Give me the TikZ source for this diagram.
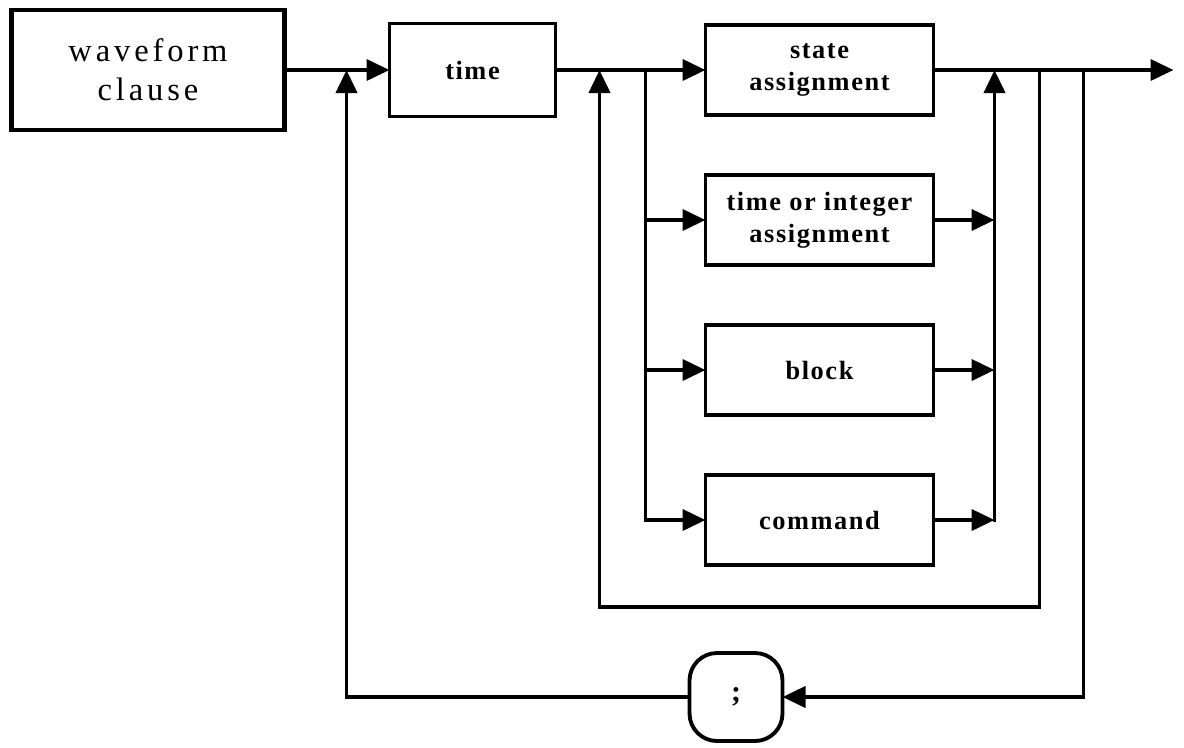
\documentclass[tikz,border=0pt]{standalone}
\usepackage{fontspec}
\setmainfont{Liberation Serif}
\newfontfamily\labelfont[LetterSpace=6]{Liberation Serif}
\newfontfamily\titlefont[LetterSpace=12]{Liberation Serif}
\usetikzlibrary{arrows.meta,positioning}

\begin{document}
\begin{tikzpicture}[
  line width=2.2pt,
  node distance=1.2cm and 3cm,
  every node/.style={outer sep=0pt},
  title/.style={rectangle,draw,line width=2.8pt,minimum width=5.46cm,minimum height=2.4cm,align=center,font=\titlefont\fontsize{18.5}{22}\selectfont},
  stmt/.style={rectangle,draw,minimum width=4.56cm,minimum height=1.8cm,align=center,font=\labelfont\bfseries\fontsize{15}{18}\selectfont},
  semi/.style={rectangle,rounded corners=0.55cm,draw,minimum width=1.86cm,minimum height=1.76cm,font=\labelfont\bfseries\fontsize{17}{18}\selectfont},
  arrow/.style={-{Triangle[length=4.6mm,width=4.2mm]}}
]
\useasboundingbox (-2.96,-13.54) rectangle (20.72,1.4);
\node[title] (wave) at (0,0) {waveform\\clause};
\node[stmt,minimum width=3.32cm,minimum height=1.86cm,right=2.1cm of wave] (time) {time};
\node[stmt,right=of time] (state) {state\\assignment};
\node[stmt,below=of state] (tori) {time or integer\\assignment};
\node[stmt,below=of tori] (block) {block};
\node[stmt,below=of block] (command) {command};
\node[semi,below=1.76cm of command,xshift=-1.67cm] (sep) {;};
% junctions on the main line
\coordinate[right=1.24cm of wave] (loop);
\coordinate[right=0.88cm of time] (back);
\coordinate[right=1.8cm of time] (branch);
\coordinate[right=1.22cm of state] (collect);
\coordinate[right=2.12cm of state] (again);
\coordinate[right=3cm of state] (skip);
\coordinate[right=4.8cm of state] (out);
\coordinate[below=0.84cm of command] (low);
% main line
\draw[arrow] (wave) -- (time);
\draw[arrow] (time) -- (state);
\draw[arrow] (state) -- (out);
% alternatives
\draw[line cap=rect] (branch) -- (branch |- command);
\foreach \n in {tori,block,command}{
  \draw[arrow] (branch |- \n) -- (\n);
  \draw[arrow] (\n) -- (collect |- \n);
}
\draw[arrow,line cap=rect] (collect |- command) -- (collect);
% repetition loops
\draw[arrow] (again) |- (low) -| (back);
\draw[arrow] (skip) |- (sep);
\draw[arrow] (sep) -| (loop);
\end{tikzpicture}
\end{document}
